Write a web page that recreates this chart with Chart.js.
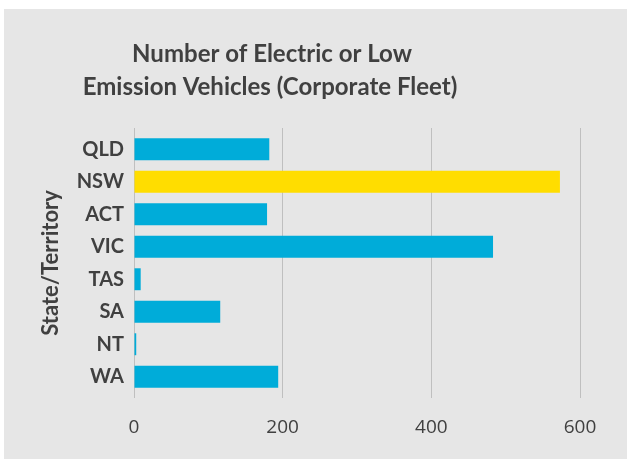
<!DOCTYPE html>
<html>
<head>
<meta charset="utf-8">
<script src="https://cdn.jsdelivr.net/npm/chart.js@4"></script>
<style>
  html, body { margin: 0; padding: 0; background: #fff; }
  #wrap { width: 627px; height: 459px; }
</style>
</head>
<body>
<div id="wrap"><canvas id="grafico" width="627" height="459"></canvas></div>
<script>
// datos
const states = ['QLD', 'NSW', 'ACT', 'VIC', 'TAS', 'SA', 'NT', 'WA'];
const vehicles = [182, 573, 179, 483, 9, 116, 3, 194];
const highlight = 'NSW';
const xTicks = [0, 200, 400, 600];
const titleLines = ['Number of Electric or Low', 'Emission Vehicles (Corporate Fleet)'];

const blue = '#00acd9';
const yellow = '#ffdd00';
const textCol = '#404040';
const gridCol = '#bfbfbf';

// fondo gris + titulo
const fondo = {
  id: 'fondo',
  beforeDraw(chart) {
    const c = chart.ctx;
    c.save();
    c.fillStyle = '#e6e6e6';
    c.fillRect(4, 9, chart.width - 4, chart.height - 9);
    c.fillStyle = textCol;
    c.font = 'bold 24px Lato';
    c.textAlign = 'center';
    c.textBaseline = 'alphabetic';
    c.fillText(titleLines[0], 272, 62);
    c.fillText(titleLines[1], 270, 95);
    c.restore();
  }
};

const ctx = document.getElementById('grafico').getContext('2d');
new Chart(ctx, {
  type: 'bar',
  data: {
    labels: states,
    datasets: [{
      label: 'Vehicles',
      data: vehicles,
      backgroundColor: states.map(s => s === highlight ? yellow : blue),
      categoryPercentage: 1,
      barPercentage: 0.675
    }]
  },
  options: {
    indexAxis: 'y',
    responsive: false,
    animation: false,
    layout: { padding: { left: 0, top: 128, right: 47, bottom: 0 } },
    plugins: { legend: { display: false }, tooltip: { enabled: false }, title: { display: false } },
    scales: {
      x: {
        position: 'bottom',
        min: 0, max: 600,
        afterBuildTicks: s => { s.ticks = xTicks.map(v => ({ value: v })); },
        afterFit: s => { s.height = 66; },
        grid: { color: gridCol, lineWidth: 1, tickLength: 5, drawTicks: true },
        border: { display: false },
        ticks: { color: textCol, font: { family: 'Open Sans', size: 19 }, padding: 18 }
      },
      x2: {
        position: 'top',
        axis: 'x',
        min: 0, max: 600,
        afterBuildTicks: s => { s.ticks = xTicks.map(v => ({ value: v })); },
        afterFit: s => { s.height = 5; },
        grid: { color: gridCol, drawOnChartArea: false, tickLength: 5 },
        border: { display: false },
        ticks: { display: false }
      },
      y: {
        afterFit: s => { s.width = 134; },
        grid: { display: false, drawTicks: false },
        border: { display: false },
        ticks: { color: textCol, font: { family: 'Lato', size: 20, weight: 'bold' }, padding: 10 },
        title: {
          display: true,
          text: 'State/Territory',
          color: textCol,
          font: { family: 'Lato', size: 22, weight: 'bold' },
          padding: { top: 38, bottom: 0 }
        }
      }
    }
  },
  plugins: [fondo]
});
</script>
</body>
</html>
